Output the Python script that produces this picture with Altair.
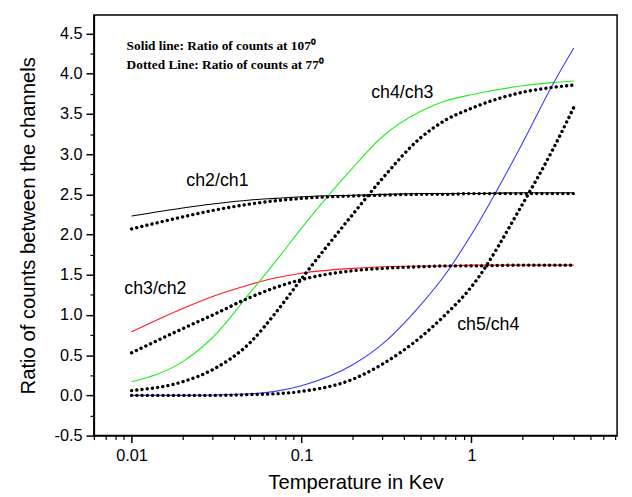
import altair as alt
import pandas as pd

# Temperature grid (keV) at which values were read
T = [0.01, 0.02, 0.03, 0.05, 0.07, 0.1, 0.2, 0.3, 0.5, 0.7, 1, 2, 3, 4]

# Solid lines: ratio of counts at 107 deg
solid_ch2_ch1 = [2.23, 2.33, 2.38, 2.43, 2.45, 2.47, 2.49, 2.50, 2.51, 2.51, 2.51, 2.52, 2.52, 2.52]
solid_ch3_ch2 = [0.79, 1.08, 1.23, 1.38, 1.46, 1.52, 1.58, 1.60, 1.61, 1.61, 1.62, 1.62, 1.62, 1.62]
solid_ch4_ch3 = [0.17, 0.42, 0.72, 1.28, 1.66, 2.08, 2.83, 3.22, 3.53, 3.66, 3.74, 3.85, 3.89, 3.91]
solid_ch5_ch4 = [0.0, 0.0, 0.005, 0.02, 0.05, 0.12, 0.38, 0.64, 1.12, 1.50, 2.00, 3.14, 3.86, 4.32]

# Dotted lines: ratio of counts at 77 deg
dotted_ch2_ch1 = [2.07, 2.22, 2.30, 2.38, 2.42, 2.45, 2.48, 2.49, 2.50, 2.50, 2.51, 2.51, 2.51, 2.51]
dotted_ch3_ch2 = [0.53, 0.83, 1.00, 1.22, 1.34, 1.44, 1.55, 1.58, 1.60, 1.61, 1.61, 1.62, 1.62, 1.62]
dotted_ch4_ch3 = [0.06, 0.17, 0.32, 0.66, 1.02, 1.45, 2.25, 2.70, 3.20, 3.42, 3.57, 3.77, 3.83, 3.86]
dotted_ch5_ch4 = [0.0, 0.0, 0.0, 0.01, 0.02, 0.05, 0.20, 0.39, 0.72, 1.00, 1.35, 2.38, 3.05, 3.58]

series_names = ["ch2/ch1", "ch3/ch2", "ch4/ch3", "ch5/ch4"]
series_colors = ["#000000", "#ff1a1a", "#22ee22", "#3a3aff"]

# Curve labels (data coordinates)
label_text = ["ch2/ch1", "ch3/ch2", "ch4/ch3", "ch5/ch4"]
label_x = [0.032, 0.0138, 0.392, 1.256]
label_y = [2.66, 1.32, 3.76, 0.87]

note_text = ["Solid line: Ratio of counts at 107\u2070", "Dotted Line: Ratio of counts at 77\u2070"]
note_x = [0.00935, 0.00935]
note_y = [4.35, 4.11]

y_major = [-0.5, 0.0, 0.5, 1.0, 1.5, 2.0, 2.5, 3.0, 3.5, 4.0, 4.5]
y_minor = [-0.25, 0.25, 0.75, 1.25, 1.75, 2.25, 2.75, 3.25, 3.75, 4.25, 4.75]
x_major = [0.01, 0.1, 1]
x_minor = [0.006, 0.007, 0.008, 0.009,
           0.02, 0.03, 0.04, 0.05, 0.06, 0.07, 0.08, 0.09,
           0.2, 0.3, 0.4, 0.5, 0.6, 0.7, 0.8, 0.9,
           2, 3, 4, 5, 6, 7]

solid_vals = [solid_ch2_ch1, solid_ch3_ch2, solid_ch4_ch3, solid_ch5_ch4]
dotted_vals = [dotted_ch2_ch1, dotted_ch3_ch2, dotted_ch4_ch3, dotted_ch5_ch4]

rows = []
for name, vals in zip(series_names, solid_vals):
    for t, v in zip(T, vals):
        rows.append({"T": t, "ratio": v, "series": name})
solid_df = pd.DataFrame(rows)
rows = []
for name, vals in zip(series_names, dotted_vals):
    for t, v in zip(T, vals):
        rows.append({"T": t, "ratio": v, "series": name})
dotted_df = pd.DataFrame(rows)

labels_df = pd.DataFrame({"T": label_x, "ratio": label_y, "text": label_text})
notes_df = pd.DataFrame({"T": note_x, "ratio": note_y, "text": note_text})

FONT = "Liberation Sans"

xscale = alt.Scale(type="log", domain=[0.006, 7.2], nice=False)
yscale = alt.Scale(domain=[-0.5, 4.73], nice=False)

x_axis = alt.Axis(values=x_major, format="~g", title="Temperature in Kev", orient="bottom",
                  grid=False, tickSize=7, tickWidth=1.5, tickColor="black",
                  labelFontSize=16.5, labelFont=FONT, labelColor="black", labelPadding=5,
                  titleFontSize=20.5, titleFont=FONT, titleFontWeight="normal", titleColor="black",
                  titlePadding=9, domainColor="black", domainWidth=1.5)
y_axis = alt.Axis(values=y_major,
                  labelExpr="datum.value < 0 ? '-' + format(-datum.value, '.1f') : format(datum.value, '.1f')",
                  title="Ratio of counts between the channels",
                  orient="left", grid=False, tickSize=8, tickWidth=1.5, tickColor="black",
                  labelFontSize=16.5, labelFont=FONT, labelColor="black", labelPadding=4,
                  titleFontSize=20.5, titleFont=FONT, titleFontWeight="normal", titleColor="black",
                  titlePadding=16, domainColor="black", domainWidth=1.5)
x_minor_axis = alt.Axis(values=x_minor, orient="bottom", labels=False, title=None, grid=False,
                        tickSize=4, tickWidth=1.2, tickColor="black", domain=False)
y_minor_axis = alt.Axis(values=y_minor, orient="left", labels=False, title=None, grid=False,
                        tickSize=4, tickWidth=1.2, tickColor="black", domain=False)

solid = alt.Chart(solid_df).mark_line(strokeWidth=1.1, interpolate="monotone", clip=True).encode(
    x=alt.X("T:Q", scale=xscale, axis=x_axis),
    y=alt.Y("ratio:Q", scale=yscale, axis=y_axis),
    color=alt.Color("series:N", scale=alt.Scale(domain=series_names, range=series_colors), legend=None),
)

dotted = alt.Chart(dotted_df).mark_line(
    strokeWidth=3.4, strokeDash=[0.1, 5.2], strokeCap="round", color="black",
    interpolate="monotone", clip=True
).encode(
    x=alt.X("T:Q", scale=xscale, axis=x_minor_axis),
    y=alt.Y("ratio:Q", scale=yscale, axis=y_minor_axis),
    detail="series:N",
)

labels = alt.Chart(labels_df).mark_text(font=FONT, fontSize=18, color="black").encode(
    x=alt.X("T:Q", scale=xscale, axis=None),
    y=alt.Y("ratio:Q", scale=yscale, axis=None),
    text="text:N",
)

notes = alt.Chart(notes_df).mark_text(font="Liberation Serif", fontSize=13.5, fontWeight="bold",
                                      color="black", align="left").encode(
    x=alt.X("T:Q", scale=xscale, axis=None),
    y=alt.Y("ratio:Q", scale=yscale, axis=None),
    text="text:N",
)

chart = alt.layer(solid, dotted, labels, notes).resolve_axis(
    x="independent", y="independent"
).properties(
    width=530, height=426,
    autosize=alt.AutoSizeParams(type="none"),
    padding={"left": 87, "top": 4, "right": 7, "bottom": 55},
    background="white",
).configure_view(stroke="black", strokeWidth=1.5)

chart.save("out.html", embed_options={"renderer": "svg", "actions": False})
